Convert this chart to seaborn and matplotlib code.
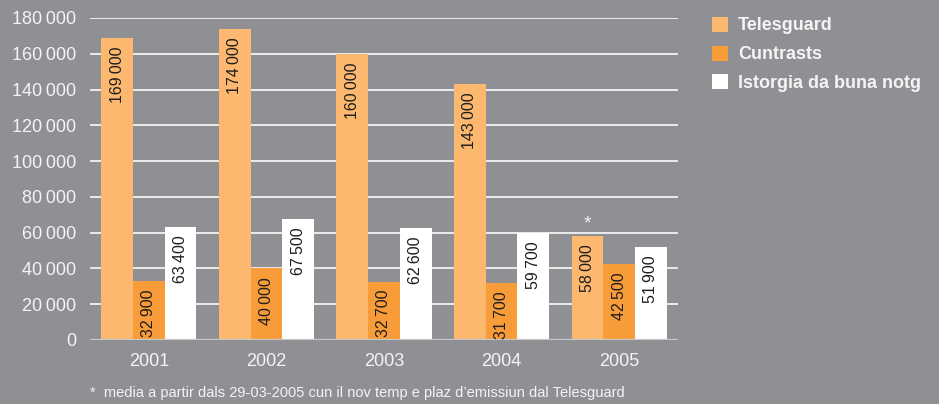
import matplotlib
matplotlib.use('Agg')
import matplotlib.pyplot as plt
import pandas as pd
import seaborn as sns
from matplotlib.patches import Patch

years = ['2001', '2002', '2003', '2004', '2005']
telesguard = [169000, 174000, 160000, 143000, 58000]
cuntrasts = [32900, 40000, 32700, 31700, 42500]
istorgia = [63400, 67500, 62600, 59700, 51900]
series = ['Telesguard', 'Cuntrasts', 'Istorgia da buna notg']
colors = ['#fdb870', '#f89c3a', '#ffffff']
yticks = [0, 20000, 40000, 60000, 80000, 100000, 120000, 140000, 160000, 180000]
footnote = '*  media a partir dals 29-03-2005 cun il nov temp e plaz d\u2019emissiun dal Telesguard'

bg = '#8f9094'


def fmt(v):
    return f'{v:,}'.replace(',', '\u2009')


df = pd.DataFrame({'year': years * 3,
                   'value': telesguard + cuntrasts + istorgia,
                   'serie': [s for s in series for _ in years]})

sns.set_style('white')
plt.rcParams['font.family'] = ['Liberation Sans', 'DejaVu Sans']

fig = plt.figure(figsize=(9.39, 4.04), dpi=100, facecolor=bg)
ax = fig.add_axes([90 / 939, 1 - 340 / 404, 588 / 939, 322 / 404])
ax.set_facecolor(bg)

sns.barplot(data=df, x='year', y='value', hue='serie', hue_order=series,
            palette=colors, width=0.81, saturation=1, ax=ax,
            edgecolor='none', linewidth=0, legend=False, zorder=3)

ax.set_xlim(-0.5, 4.5)
ax.set_ylim(0, 180000)
ax.set_yticks(yticks)
ax.set_yticklabels([fmt(t) for t in yticks])
ax.set_xlabel('')
ax.set_ylabel('')
for s in ax.spines.values():
    s.set_visible(False)
ax.yaxis.grid(True, color='#ececec', linewidth=1.4, zorder=0)
ax.set_axisbelow(True)
ax.axhline(0, color='#c8c8c8', linewidth=1.6, zorder=4)
ax.tick_params(axis='both', length=0, labelcolor='#f4f4f4', labelsize=13)
ax.tick_params(axis='x', pad=9)
ax.tick_params(axis='y', pad=10)

# value labels inside the bars
for cont in ax.containers:
    for bar in cont:
        h = bar.get_height()
        ax.annotate(fmt(int(h)), (bar.get_x() + bar.get_width() / 2, h),
                    xytext=(0, -6), textcoords='offset points',
                    rotation=90, ha='center', va='top',
                    fontsize=11.5, color='#1e1e1e', zorder=5)

# asterisk over 2005 Telesguard
b = ax.containers[0][4]
ax.annotate('*', (b.get_x() + b.get_width() / 2, b.get_height()),
            xytext=(0, 3), textcoords='offset points',
            ha='center', va='bottom', fontsize=14, color='#f4f4f4')

handles = [Patch(facecolor=c, edgecolor='none') for c in colors]
leg = fig.legend(handles, series, loc='upper left',
                 bbox_to_anchor=(699 / 939, 1 - 4 / 404), frameon=False,
                 handlelength=0.9, handleheight=0.9, handletextpad=0.55,
                 labelspacing=0.62, borderaxespad=0.3,
                 prop={'weight': 'bold', 'size': 13})
for t in leg.get_texts():
    t.set_color('#f4f4f4')

fig.text(90 / 939, 1 - 393 / 404, footnote, fontsize=10.5, color='#f4f4f4',
         va='center', ha='left')

fig.savefig('out.png', dpi=100, facecolor=bg)
